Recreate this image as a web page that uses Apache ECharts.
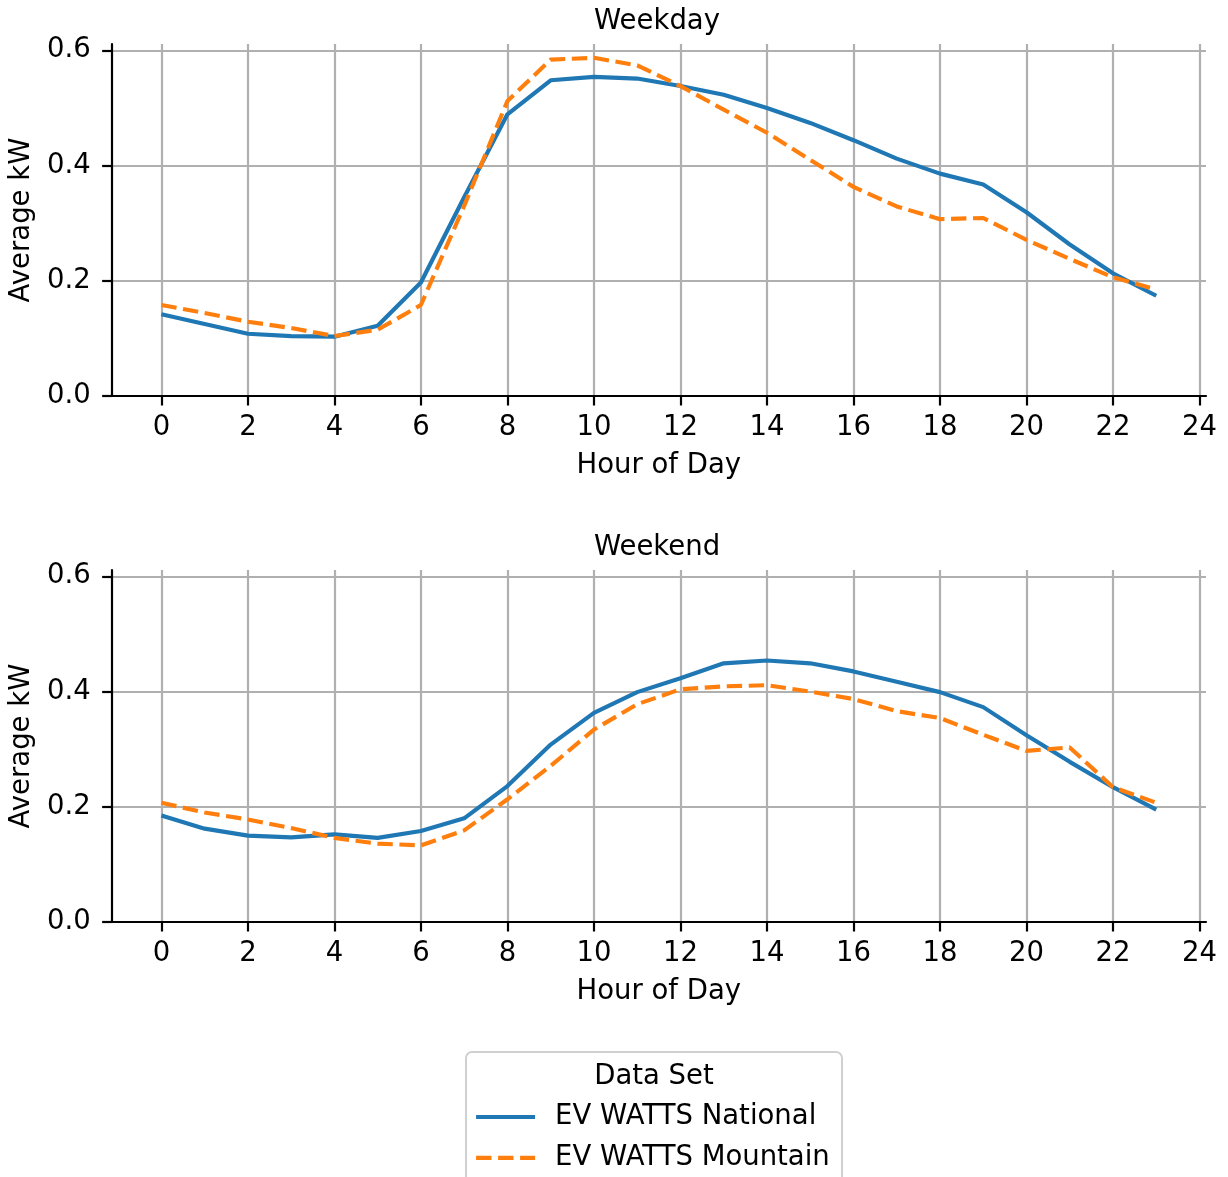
<!DOCTYPE html>
<html>
<head>
<meta charset="utf-8">
<script src="https://cdn.jsdelivr.net/npm/echarts@6/dist/echarts.min.js"></script>
<style>
  html, body { margin: 0; padding: 0; background: #fff; }
  #chart { width: 1228px; height: 1177px; }
</style>
</head>
<body>
<div id="chart"></div>
<script>
// data
const hours = [0, 1, 2, 3, 4, 5, 6, 7, 8, 9, 10, 11, 12, 13, 14, 15, 16, 17, 18, 19, 20, 21, 22, 23];
const weekdayNational = [0.142, 0.125, 0.108, 0.104, 0.103, 0.122, 0.197, 0.345, 0.489, 0.548, 0.554, 0.551,
  0.538, 0.523, 0.500, 0.474, 0.444, 0.412, 0.386, 0.367, 0.319, 0.263, 0.213, 0.174];
const weekdayMountain = [0.158, 0.144, 0.129, 0.118, 0.104, 0.115, 0.158, 0.330, 0.512, 0.584, 0.587, 0.574,
  0.538, 0.497, 0.457, 0.410, 0.363, 0.329, 0.307, 0.309, 0.271, 0.238, 0.206, 0.185];
const weekendNational = [0.185, 0.162, 0.150, 0.147, 0.152, 0.146, 0.158, 0.180, 0.236, 0.308, 0.363, 0.399,
  0.423, 0.449, 0.454, 0.449, 0.435, 0.417, 0.399, 0.373, 0.324, 0.278, 0.234, 0.195];
const weekendMountain = [0.207, 0.190, 0.178, 0.163, 0.146, 0.136, 0.133, 0.159, 0.213, 0.271, 0.334, 0.378,
  0.404, 0.409, 0.411, 0.400, 0.387, 0.366, 0.354, 0.325, 0.297, 0.303, 0.234, 0.207];
const xTicks = [0, 2, 4, 6, 8, 10, 12, 14, 16, 18, 20, 22, 24];
const yTicks = [0, 0.2, 0.4, 0.6];
const panelTitles = ['Weekday', 'Weekend'];
const seriesNames = ['EV WATTS National', 'EV WATTS Mountain'];

const FONT = 'DejaVu Sans';
const FS = 27.5;
const BLUE = '#1f77b4';
const ORANGE = '#ff7f0e';
const LW = 4.15;

const chart = echarts.init(document.getElementById('chart'), null, { renderer: 'canvas' });

function pairs(vals) {
  return hours.map((h, i) => [h, vals[i]]);
}

function xAxisCfg(gridIndex) {
  return {
    type: 'value',
    gridIndex: gridIndex,
    min: -1.15,
    max: 24.15,
    name: 'Hour of Day',
    nameLocation: 'middle',
    nameGap: 56,
    nameTextStyle: { fontFamily: FONT, fontSize: FS, color: '#000' },
    axisLine: { show: true, onZero: false, lineStyle: { color: '#000', width: 2.2 } },
    axisTick: { show: true, length: 9.5, lineStyle: { color: '#000', width: 2.2 }, customValues: xTicks },
    axisLabel: { fontFamily: FONT, fontSize: FS, color: '#000', margin: 18, customValues: xTicks,
      formatter: v => String(Math.round(v)) },
    splitLine: { show: true, lineStyle: { color: '#b0b0b0', width: 2.2 } }
  };
}

function yAxisCfg(gridIndex) {
  return {
    type: 'value',
    gridIndex: gridIndex,
    min: 0,
    max: 0.611,
    name: 'Average kW',
    nameLocation: 'middle',
    nameGap: 75,
    nameRotate: 90,
    nameTextStyle: { fontFamily: FONT, fontSize: FS, color: '#000' },
    axisLine: { show: true, onZero: false, lineStyle: { color: '#000', width: 2.2 } },
    axisTick: { show: true, length: 9.5, lineStyle: { color: '#000', width: 2.2 }, customValues: yTicks },
    axisLabel: { fontFamily: FONT, fontSize: FS, color: '#000', margin: 21, customValues: yTicks,
      formatter: v => v.toFixed(1) },
    splitLine: { show: true, lineStyle: { color: '#b0b0b0', width: 2.2 } }
  };
}

function lineSeries(name, vals, idx, color, dashed) {
  return {
    name: name,
    type: 'line',
    xAxisIndex: idx,
    yAxisIndex: idx,
    data: pairs(vals),
    symbol: 'none',
    showSymbol: false,
    silent: true,
    color: color,
    lineStyle: { color: color, width: LW, type: dashed ? [15.4, 6.6] : 'solid', cap: 'butt' },
    z: dashed ? 3 : 2
  };
}

const option = {
  animation: false,
  backgroundColor: '#fff',
  textStyle: { fontFamily: FONT },
  title: [
    { text: panelTitles[0], left: 657, top: 8, textAlign: 'center', padding: 0,
      textStyle: { fontFamily: FONT, fontSize: FS, fontWeight: 'normal', color: '#000' } },
    { text: panelTitles[1], left: 657, top: 534, textAlign: 'center', padding: 0,
      textStyle: { fontFamily: FONT, fontSize: FS, fontWeight: 'normal', color: '#000' } }
  ],
  grid: [
    { left: 109, top: 44, width: 1097, height: 352 },
    { left: 109, top: 570, width: 1097, height: 352 }
  ],
  xAxis: [xAxisCfg(0), xAxisCfg(1)],
  yAxis: [yAxisCfg(0), yAxisCfg(1)],
  legend: {
    orient: 'vertical',
    left: 474,
    top: 1103,
    padding: 0,
    itemWidth: 59,
    itemHeight: 14,
    itemGap: 12.8,
    selectedMode: false,
    data: seriesNames,
    itemStyle: { opacity: 0, borderWidth: 0 },
    lineStyle: { width: LW },
    textStyle: { fontFamily: FONT, fontSize: FS, color: '#000', lineHeight: 28, padding: [0, 0, 0, 15] }
  },
  graphic: [
    { type: 'rect', x: 466, y: 1052, z: -1,
      shape: { width: 376, height: 200, r: 6 },
      style: { fill: 'rgba(255,255,255,0.8)', stroke: '#d0d0d0', lineWidth: 2 } },
    { type: 'text', x: 654, y: 1077, z: 10,
      style: { text: 'Data Set', font: FS + 'px "' + FONT + '"', fill: '#000',
        textAlign: 'center', textVerticalAlign: 'middle' } }
  ],
  series: [
    lineSeries(seriesNames[0], weekdayNational, 0, BLUE, false),
    lineSeries(seriesNames[1], weekdayMountain, 0, ORANGE, true),
    lineSeries(seriesNames[0], weekendNational, 1, BLUE, false),
    lineSeries(seriesNames[1], weekendMountain, 1, ORANGE, true)
  ]
};

chart.setOption(option);
</script>
</body>
</html>
